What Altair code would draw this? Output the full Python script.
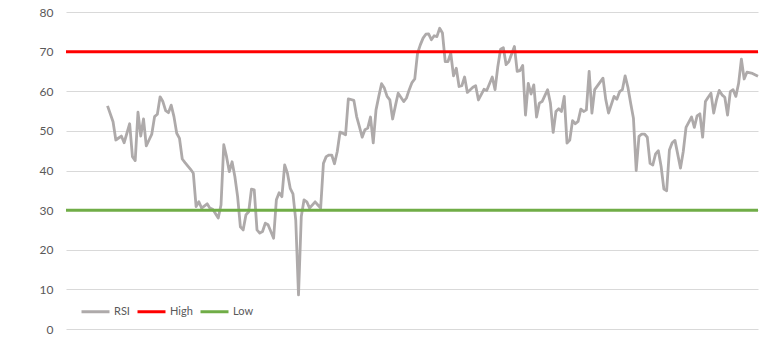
import altair as alt
import pandas as pd

# ---- data ----
series_names = ["RSI", "High", "Low"]
series_colors = ["#AEAAAA", "#FF0000", "#70AD47"]
y_ticks = [0, 10, 20, 30, 40, 50, 60, 70, 80]
n_days = 251
high_level = 70
low_level = 30

rsi_day = [15, 17, 18, 19, 20, 21, 23, 24, 25, 26, 27, 28, 29, 30, 31, 32, 33, 34, 35, 36,
           37, 38, 39, 40, 41, 42, 43, 45, 46, 47, 48, 49, 51, 52, 53, 55, 56, 57, 58, 59,
           60, 61, 62, 63, 64, 65, 66, 67, 68, 69, 70, 71, 72, 73, 75, 76, 77, 78, 79, 80,
           81, 82, 83, 84, 85, 86, 87, 88, 90, 91, 92, 93, 94, 95, 96, 97, 98, 99, 100, 101,
           102, 104, 105, 106, 107, 108, 109, 110, 111, 112, 113, 114, 115, 116, 117, 118, 119, 120, 122, 123,
           124, 125, 126, 127, 128, 129, 130, 131, 132, 133, 134, 135, 136, 137, 138, 139, 140, 141, 142, 143,
           144, 145, 147, 148, 149, 151, 152, 154, 155, 156, 157, 158, 159, 160, 162, 163, 164, 165, 166, 167,
           168, 169, 170, 171, 172, 174, 175, 176, 177, 178, 179, 180, 181, 182, 183, 184, 185, 186, 187, 188,
           189, 190, 191, 194, 195, 196, 198, 199, 200, 201, 202, 203, 204, 205, 206, 207, 208, 209, 210, 211,
           212, 213, 214, 215, 216, 217, 218, 219, 220, 222, 223, 224, 226, 227, 228, 229, 230, 231, 232, 233,
           234, 235, 236, 237, 238, 239, 240, 241, 242, 243, 244, 245, 246, 248, 250]
rsi_value = [56.3, 52.3, 47.7, 48.2, 48.7, 47.0, 51.8, 43.5, 42.5, 54.7, 48.7, 53.0, 46.2, 47.7, 49.2, 53.6, 54.2, 58.6, 57.4, 55.1,
             54.6, 56.5, 53.6, 49.4, 48.1, 42.9, 42.0, 40.3, 39.3, 30.9, 32.1, 30.5, 31.6, 30.5, 30.2, 28.0, 31.3, 46.5, 43.5, 39.7,
             42.2, 38.5, 33.4, 25.8, 25.0, 28.8, 29.6, 35.3, 35.1, 25.0, 24.2, 24.6, 26.7, 26.3, 22.9, 32.6, 34.4, 33.4, 41.4, 39.3,
             35.5, 34.1, 27.5, 8.6, 28.4, 32.6, 32.1, 30.5, 32.1, 31.3, 30.5, 41.8, 43.5, 43.9, 43.9, 41.7, 44.8, 49.7, 49.4, 49.0,
             58.1, 57.7, 53.6, 51.1, 48.4, 50.3, 50.7, 53.5, 47.0, 55.3, 58.7, 61.9, 60.8, 58.7, 57.8, 53.0, 56.3, 59.5, 57.4, 58.3,
             60.4, 62.2, 63.1, 69.6, 71.7, 73.4, 74.4, 74.5, 73.0, 74.0, 73.8, 75.9, 74.7, 67.5, 67.5, 69.6, 63.9, 65.8, 61.2, 61.4,
             63.6, 59.7, 61.0, 61.4, 57.8, 60.5, 60.2, 63.6, 60.4, 66.2, 70.6, 71.0, 66.7, 67.5, 71.3, 65.0, 65.2, 66.5, 54.0, 62.0,
             59.3, 61.6, 53.5, 57.0, 57.4, 60.4, 57.0, 49.6, 54.9, 55.6, 54.9, 58.7, 46.9, 47.7, 52.6, 51.8, 52.4, 55.5, 54.9, 55.3,
             65.0, 54.5, 60.4, 63.3, 57.9, 54.5, 58.7, 58.0, 59.9, 60.4, 63.9, 61.0, 57.0, 53.2, 40.0, 48.6, 49.2, 49.2, 48.4, 41.8,
             41.4, 44.2, 45.0, 41.0, 35.3, 34.9, 45.2, 47.0, 47.6, 40.6, 44.8, 50.9, 53.5, 50.9, 53.8, 54.3, 48.4, 57.4, 58.5, 59.5,
             54.5, 57.8, 60.2, 59.1, 58.5, 54.0, 59.9, 60.4, 58.7, 62.0, 68.1, 63.1, 64.8, 64.5, 63.8]

# ---- tables ----
rsi_df = pd.DataFrame({"day": rsi_day, "value": rsi_value, "series": "RSI"})
level_df = pd.DataFrame({
    "day": [0, n_days - 1, 0, n_days - 1],
    "value": [high_level, high_level, low_level, low_level],
    "series": ["High", "High", "Low", "Low"],
})

x_enc = alt.X("day:Q", scale=alt.Scale(domain=[0, n_days - 1], nice=False, zero=False), axis=None)
y_enc = alt.Y(
    "value:Q",
    scale=alt.Scale(domain=[0, 80], nice=False),
    axis=alt.Axis(
        values=y_ticks, grid=True, gridColor="#D9D9D9", gridWidth=1,
        domain=False, ticks=False, labelPadding=13, labelColor="#595959",
        labelFontSize=12, labelFont="Lato", title=None,
    ),
)
color_enc = alt.Color(
    "series:N",
    scale=alt.Scale(domain=series_names, range=series_colors),
    legend=alt.Legend(
        title=None, orient="none", direction="horizontal",
        legendX=14, legendY=284,
        symbolType="stroke", symbolSize=784, symbolStrokeWidth=3,
        labelFont="Lato", labelFontSize=11, labelColor="#595959",
        labelOffset=3, columnPadding=1, padding=0,
    ),
    sort=series_names,
)

rsi_line = alt.Chart(rsi_df).mark_line(strokeWidth=2.8, strokeJoin="round").encode(
    x=x_enc, y=y_enc, color=color_enc
)
level_lines = alt.Chart(level_df).mark_line(strokeWidth=3).encode(
    x=x_enc, y=y_enc, color=color_enc, detail="series:N"
)

chart = alt.layer(rsi_line, level_lines).properties(
    width=692, height=317,
    autosize=alt.AutoSizeParams(type="none"),
    padding={"left": 66, "top": 12, "right": 25, "bottom": 8},
    background="white",
).configure_view(stroke=None)

chart.save("out.html", embed_options={"renderer": "svg", "actions": False})
